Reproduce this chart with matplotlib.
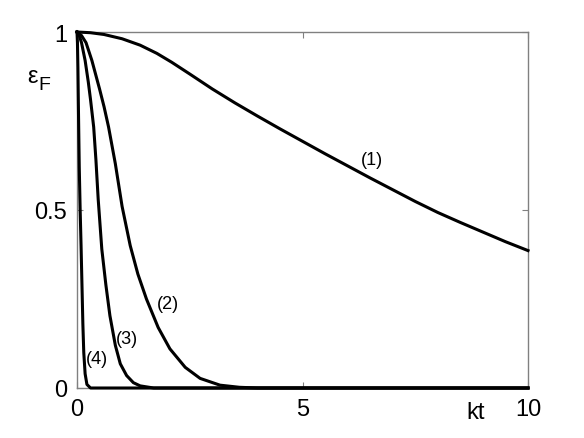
import matplotlib
matplotlib.use("Agg")
import matplotlib.pyplot as plt

plt.rcParams['font.family'] = ['Liberation Sans', 'DejaVu Sans']

# Curve (1)
x1 = [0, 0.3, 0.6, 1.0, 1.4, 1.77, 2.1, 2.5, 3.0, 3.5, 4.0, 4.5, 5.0, 5.5, 6.0,
      6.5, 7.0, 7.5, 8.0, 8.5, 9.0, 9.5, 10.0]
y1 = [1.0, 0.998, 0.993, 0.981, 0.963, 0.94, 0.915, 0.882, 0.84, 0.801, 0.764,
      0.728, 0.693, 0.658, 0.624, 0.590, 0.557, 0.524, 0.493, 0.465, 0.438,
      0.411, 0.386]
# Curve (2)
x2 = [0, 0.1, 0.2, 0.33, 0.5, 0.6, 0.70, 0.85, 1.0, 1.18, 1.35, 1.54, 1.8,
      2.06, 2.4, 2.73, 3.17, 3.6, 4.0, 10.0]
y2 = [1.0, 0.99, 0.97, 0.92, 0.84, 0.79, 0.733, 0.63, 0.51, 0.40, 0.32, 0.25,
      0.17, 0.11, 0.058, 0.027, 0.008, 0.002, 0.0, 0.0]
# Curve (3)
x3 = [0, 0.05, 0.1, 0.18, 0.25, 0.3, 0.37, 0.42, 0.47, 0.55, 0.64, 0.73, 0.85,
      0.96, 1.10, 1.25, 1.4, 1.7, 10.0]
y3 = [1.0, 0.99, 0.97, 0.92, 0.86, 0.81, 0.733, 0.64, 0.53, 0.39, 0.29, 0.203,
      0.12, 0.068, 0.035, 0.015, 0.006, 0.0, 0.0]
# Curve (4)
x4 = [0, 0.01, 0.02, 0.03, 0.05, 0.07, 0.09, 0.11, 0.13, 0.15, 0.18, 0.22,
      0.3, 10.0]
y4 = [1.0, 0.97, 0.9, 0.8, 0.62, 0.5, 0.40, 0.29, 0.18, 0.10, 0.04, 0.01,
      0.0, 0.0]

curve_labels = ['(1)', '(2)', '(3)', '(4)']
label_pos = [(6.53, 0.643), (2.02, 0.238), (1.10, 0.140), (0.44, 0.083)]

xticks = [0, 5, 10]
xticklabels = ['0', '5', '10']
yticks = [0, 0.5, 1]
yticklabels = ['0', '0.5', '1']

fig = plt.figure(figsize=(5.84, 4.39), dpi=100)
ax = fig.add_axes([77/584, 1 - 389/439, 451/584, 356/439])

for xs, ys in [(x1, y1), (x2, y2), (x3, y3), (x4, y4)]:
    ax.plot(xs, ys, color='black', lw=2.2, clip_on=False, zorder=3,
            solid_joinstyle='round')

for lab, (lx, ly) in zip(curve_labels, label_pos):
    ax.text(lx, ly, lab, fontsize=13, ha='center', va='center')

ax.set_xlim(0, 10)
ax.set_ylim(0, 1)
ax.set_xticks(xticks)
ax.set_xticklabels(xticklabels)
ax.set_yticks(yticks)
ax.set_yticklabels(yticklabels)
ax.tick_params(direction='in', length=4, width=0.8, color='#808080',
               top=True, right=True, labelsize=17, pad=7)
for s in ax.spines.values():
    s.set_color('#808080')
    s.set_linewidth(1.0)

# axis labels
fig.text(476/584, 1 - 413/439, 'kt', fontsize=17, ha='center', va='center')
fig.text(33/584, 1 - 77/439, 'ε', fontsize=17, ha='center', va='center')
fig.text(44/584, 1 - 86/439, 'F', fontsize=14, ha='center', va='center')

fig.savefig('out.png', dpi=100)
